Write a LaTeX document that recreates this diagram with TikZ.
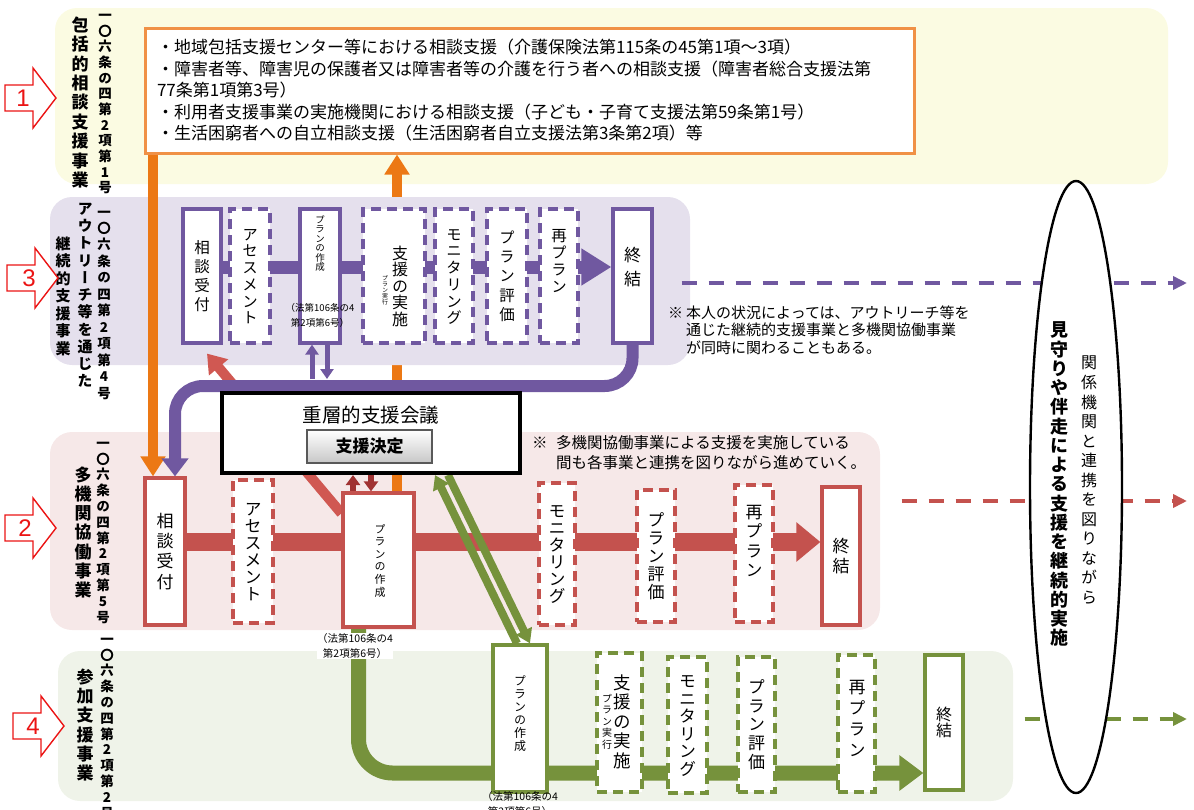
\documentclass[tikz,border=0pt]{standalone}
\usepackage{fontspec}
\setmainfont{Noto Sans CJK JP}
\newfontfamily\tatefont{Noto Sans CJK JP}[RawFeature=+vert]
\newfontfamily\numfont{Liberation Sans}
\usetikzlibrary{arrows.meta,shapes.geometric}

\definecolor{pu}{RGB}{112,88,160}
\definecolor{rd}{RGB}{196,82,78}
\definecolor{rdk}{RGB}{160,50,50}
\definecolor{rdiag}{RGB}{208,88,82}
\definecolor{gn}{RGB}{118,146,60}
\definecolor{og}{RGB}{236,120,20}
\definecolor{ogbox}{RGB}{240,145,70}
\definecolor{bandy}{RGB}{251,251,226}
\definecolor{bandp}{RGB}{229,224,237}
\definecolor{bandr}{RGB}{246,232,232}
\definecolor{bandg}{RGB}{239,243,233}
\definecolor{arrred}{RGB}{235,20,20}

\pgfdeclarelayer{bandA}
\pgfdeclarelayer{orng}
\pgfdeclarelayer{bandB}
\pgfdeclarelayer{conn}
\pgfsetlayers{bandA,orng,bandB,conn,main}

\ExplSyntaxOn
\NewDocumentCommand\tate{O{1.1}m}
  {
    \vbox
      {
        \offinterlineskip
        \tl_map_inline:nn {#2}
          {
            \hbox_to_wd:nn {1em}
              { \hss \raisebox{\dimexpr(#1em-1em)/2+0.12em\relax}[#1em][0pt]{##1} \hss }
          }
      }
  }
\ExplSyntaxOff

\newcommand\banarrow[2]{\filldraw[numarr] (#1,#2-13) -- (#1+28,#2-13) -- (#1+28,#2-30) -- (#1+51,#2) -- (#1+28,#2+30) -- (#1+28,#2+13) -- (#1,#2+13) -- cycle;}

\begin{document}
\begin{tikzpicture}[x=1pt,y=-1pt,
        solidbox/.style={draw=#1,fill=white,line width=3.2pt,inner sep=0pt},
        dashbox/.style={solidbox=#1,dash pattern=on 10pt off 6pt},
        jp/.style={font=\tatefont\fontsize{#1}{#1}\selectfont,inner sep=0pt},
        jpb/.style={font=\tatefont\bfseries\fontsize{#1}{#1}\selectfont,inner sep=0pt},
        law/.style={font=\fontsize{#1}{15}\selectfont,align=center,inner sep=0.5pt},
        note/.style 2 args={font=\fontsize{#1}{#2}\selectfont,align=left,inner sep=0pt},
        btn/.style={draw=black!65,line width=1.1pt,top color=white,bottom color=black!22,minimum width=125,minimum height=33,inner sep=0pt,font=\bfseries\fontsize{17}{17}\selectfont},
        numarr/.style={draw=arrred,fill=white,line width=1.4pt,line join=miter},
        numtxt/.style={text=arrred,font=\numfont\fontsize{24}{24}\selectfont,inner sep=0pt},
        pflow/.style={draw=pu,line width=13pt,-{Triangle[length=30pt,width=35pt]}},
        rflow/.style={draw=rd,line width=18pt,-{Triangle[length=24pt,width=38pt]}},
        gflow/.style={draw=gn,line width=15pt,rounded corners=34pt,-{Triangle[length=24pt,width=34pt]}},
        oline/.style={draw=og,line width=10pt,-{Triangle[length=20pt,width=24pt]}},
        pline/.style={draw=pu,line width=12pt,rounded corners=28pt,-{Triangle[length=18pt,width=26pt]}},
        rline/.style={draw=rdiag,line width=10pt,-{Triangle[length=18pt,width=24pt]}},
        pthin/.style={draw=pu,line width=5pt,-{Triangle[length=10pt,width=13pt]}},
        rthin/.style={draw=rdk,line width=6pt,-{Triangle[length=10pt,width=14pt]}},
        gthin/.style={draw=gn,line width=8pt,-{Triangle[length=14pt,width=17pt]}},
        dline/.style={draw=#1,line width=4.5pt,dash pattern=on 15pt off 12pt,-{Triangle[length=14pt,width=13pt]}}]
        \useasboundingbox (0,0) rectangle (1194,809);

        \node[solidbox=ogbox,line width=3pt,minimum width=769,minimum height=125,text width=745,inner xsep=12pt,align=left,font=\fontsize{17}{21.5}\selectfont] (ob) at (529.5,90.5) {・地域包括支援センター等における相談支援（介護保険法第115条の45第1項～3項）\\
・障害者等、障害児の保護者又は障害者等の介護を行う者への相談支援（障害者総合支援法第\\
77条第1項第3号）\\
・利用者支援事業の実施機関における相談支援（子ども・子育て支援法第59条第1号）\\
・生活困窮者への自立相談支援（生活困窮者自立支援法第3条第2項）等};

        \node[solidbox=pu,jp=15.5,minimum width=38,minimum height=134] (p1) at (202,276) {\tate[1.22]{相談受付}};
        \node[dashbox=pu,jp=15.5,minimum width=40,minimum height=134] (p2) at (250,276) {\tate[1.08]{アセスメント}};
        \node[solidbox=pu,minimum width=40,minimum height=134] (p3) at (320,276) {};
        \node[dashbox=pu,minimum width=62,minimum height=134] (p4) at (394,276) {};
        \node[dashbox=pu,jp=15.5,minimum width=38,minimum height=134] (p5) at (454,276) {\tate[1.08]{モニタリング}};
        \node[dashbox=pu,jp=15.5,minimum width=40,minimum height=134] (p6) at (507,276) {\tate[1.24]{プラン評価}};
        \node[dashbox=pu,minimum width=38,minimum height=134] (p7) at (559,276) {};
        \node[solidbox=pu,minimum width=39,minimum height=134] (p8) at (632.5,276) {};
        \node[jp=9.5] (p3t) at (320,243.5) {\tate[1.0]{プランの作成}};
        \node[law=9.5] (p3l) at (320,315) {（法第106条の4\\第2項第6号）};
        \node[jp=16] (p4t) at (400,286) {\tate[1.03]{支援の実施}};
        \node[jp=6] (p4s) at (385,290) {\tate[1.0]{プラン実行}};
        \node[jp=15.5] (p7t) at (559,261) {\tate[1.1]{再プラン}};
        \node[jp=17] (p8t) at (632.5,267) {\tate[1.45]{終結}};

        \node[solidbox=rd,jp=17,minimum width=40,minimum height=147] (r1) at (165,551.5) {\tate[1.18]{相談受付}};
        \node[dashbox=rd,jp=17,minimum width=40,minimum height=143] (r2) at (253,551.5) {\tate[1.0]{アセスメント}};
        \node[solidbox=rd,minimum width=71,minimum height=134] (r3) at (378.5,560) {};
        \node[dashbox=rd,jp=17,minimum width=36,minimum height=142] (r4) at (557,554) {\tate[1.0]{モニタリング}};
        \node[dashbox=rd,jp=17,minimum width=38,minimum height=132] (r5) at (656,556) {\tate[1.06]{プラン評価}};
        \node[dashbox=rd,minimum width=38,minimum height=137] (r6) at (754,553.5) {};
        \node[solidbox=rd,jp=17,minimum width=38,minimum height=138] (r7) at (841,556) {\tate[1.15]{終結}};
        \node[jp=11] (r3t) at (380,560.5) {\tate[1.14]{プランの作成}};
        \node[law=10.5,fill=white] (r3l) at (355,646) {（法第106条の4\\第2項第6号）};
        \node[jp=17] (r6t) at (754,541) {\tate[1.15]{再プラン}};

        \node[solidbox=gn,minimum width=54,minimum height=147] (g1) at (520,718.5) {};
        \node[dashbox=gn,minimum width=45,minimum height=139] (g2) at (619.5,722.5) {};
        \node[dashbox=gn,jp=17,minimum width=39,minimum height=136] (g3) at (687.5,725) {\tate[1.03]{モニタリング}};
        \node[dashbox=gn,jp=17,minimum width=37,minimum height=135] (g4) at (756.5,724.5) {\tate[1.1]{プラン評価}};
        \node[dashbox=gn,minimum width=37,minimum height=137] (g5) at (856.5,723.5) {};
        \node[solidbox=gn,jp=16,minimum width=38,minimum height=135] (g6) at (944,722.5) {\tate[1.0]{終結}};
        \node[jp=12] (g1t) at (520,713.5) {\tate[1.08]{プランの作成}};
        \node[law=10.5] (g1l) at (520,804) {（法第106条の4\\第2項第6号）};
        \node[jp=17.5] (g2t) at (622,721.5) {\tate[1.11]{支援の実施}};
        \node[jp=10] (g2s) at (607,721.5) {\tate[1.15]{プラン実行}};
        \node[jp=17] (g5t) at (857,718.5) {\tate[1.23]{再プラン}};

        \node[solidbox=black,line width=4pt,minimum width=298,minimum height=80] (mt) at (371,433) {};
        \node[font=\fontsize{19.5}{19.5}\selectfont,inner sep=0pt] (mtt) at (371,415) {重層的支援会議};
        \node[btn] (mtb) at (369.5,446.5) {支援決定};

        \node[ellipse,draw=black,line width=2.4pt,fill=white,minimum width=92,minimum height=612] (el) at (1076,487) {};
        \node[jpb=18] (ela) at (1059,484) {\tate[1.07]{見守りや伴走による支援を継続的実施}};
        \node[jp=16] (elb) at (1089,480) {\tate[1.22]{関係機関と連携を図りながら}};

        \node[note={15}{17.5},anchor=west] (nt1) at (668,330) {\makebox[1.2em][l]{※}本人の状況によっては、アウトリーチ等を\\\hspace*{1.2em}通じた継続的支援事業と多機関協働事業\\\hspace*{1.2em}が同時に関わることもある。};
        \node[note={15.5}{20},anchor=west] (nt2) at (532,453) {\makebox[1.55em][l]{※}多機関協働事業による支援を実施している\\\hspace*{1.55em}間も各事業と連携を図りながら進めていく。};

        \node[jpb=17] (l1a) at (80,102.5) {\tate[1.14]{包括的相談支援事業}};
        \node[jpb=13.5] (l1b) at (105,101.5) {\tate[1.16]{一〇六条の四第2項第1号}};
        \node[jpb=15] (l3a) at (63,296) {\tate[1.17]{継続的支援事業}};
        \node[jpb=15] (l3b) at (85,295) {\tate[1.15]{アウトリーチ等を通じた}};
        \node[jpb=13.5] (l3c) at (104,302.5) {\tate[1.22]{一〇六条の四第2項第4号}};
        \node[jpb=17] (l2a) at (83,532.5) {\tate[1.135]{多機関協働事業}};
        \node[jpb=13.5] (l2b) at (103,530) {\tate[1.17]{一〇六条の四第2項第5号}};
        \node[jpb=17] (l4a) at (85,725) {\tate[1.135]{参加支援事業}};
        \node[jpb=13.5] (l4b) at (107,726) {\tate[1.17]{一〇六条の四第2項第2号}};

        \banarrow{5}{98}
        \node[numtxt] (n1) at (23,98) {1};
        \banarrow{7}{278}
        \node[numtxt] (n3) at (29,278) {3};
        \banarrow{5}{528}
        \node[numtxt] (n2) at (25,528) {2};
        \banarrow{13}{726}
        \node[numtxt] (n4) at (33,726) {4};

        \coordinate (oin) at ([xshift=-12pt]r1.north);
        \coordinate (pin) at ([xshift=10pt]r1.north);
        \coordinate (mtop) at ([yshift=5pt]mt.north);
        \coordinate (mtop2) at ([yshift=12pt]mt.north);
        \coordinate (omid) at ([xshift=18.5pt]r3.north);
        \coordinate (pu) at ([xshift=-8pt]p3.south);
        \coordinate (pd) at ([xshift=7pt]p3.south);
        \coordinate (ru) at ([xshift=-25.5pt]r3.north);
        \coordinate (rdn) at ([xshift=-7.5pt]r3.north);
        \coordinate (gu) at ([xshift=-3pt]g1.north);
        \coordinate (gd) at ([xshift=10pt]g1.north);
        \coordinate (mu) at ([xshift=64pt]mt.south);
        \coordinate (md) at ([xshift=77pt]mt.south);
        \coordinate (gst) at ([xshift=-20pt]r3.south);
        \coordinate (pend) at (1187,283);
        \coordinate (rend) at (1187,501);
        \coordinate (gend) at (1187,719);

        \begin{pgfonlayer}{bandA}
            \fill[bandy,rounded corners=22pt] (55,8) rectangle (1168,184);
            \fill[bandr,rounded corners=22pt] (50,432) rectangle (880,630);
            \fill[bandg,rounded corners=22pt] (58,651) rectangle (1013,801);
        \end{pgfonlayer}
        \begin{pgfonlayer}{orng}
            \draw[oline] (omid) -- (ob.south -| omid);
        \end{pgfonlayer}
        \begin{pgfonlayer}{bandB}
            \fill[bandp,rounded corners=22pt] (50,197) rectangle (690,365);
        \end{pgfonlayer}
        \begin{pgfonlayer}{conn}
            \draw[pflow] ([yshift=9pt]p1.east) -- ([yshift=9pt]p8.west);
            \draw[rflow] ([yshift=9.5pt]r1.east) -- ([yshift=14pt]r7.west);
            \draw[gflow] (gst) |- ([yshift=-50.5pt]g6.west);
            \draw[oline] (ob.south -| oin) -- (oin);
            \draw[rline] ([yshift=-22pt]r3.north west) -- ([xshift=5pt,yshift=-9pt]p1.south);
            \draw[pline] (p8.south) |- (mtop -| pin) -- (pin);
            \draw[pthin] (pu |- mtop2) -- (pu);
            \draw[pthin] (pd) -- (pd |- mtop2);
            \draw[rthin] (ru) -- (ru |- mt.south);
            \draw[rthin] (rdn |- mt.south) -- (rdn);
            \draw[gthin] (gu) -- (mu);
            \draw[gthin] (md) -- (gd);
            \draw[dline=pu] ([xshift=28pt,yshift=-7pt]p8.east) -- (pend);
            \draw[dline=rd] ([xshift=40pt,yshift=55pt]r7.east) -- (rend);
            \draw[dline=gn] ([xshift=60pt,yshift=3.5pt]g6.east) -- (gend);
        \end{pgfonlayer}
\end{tikzpicture}
\end{document}
